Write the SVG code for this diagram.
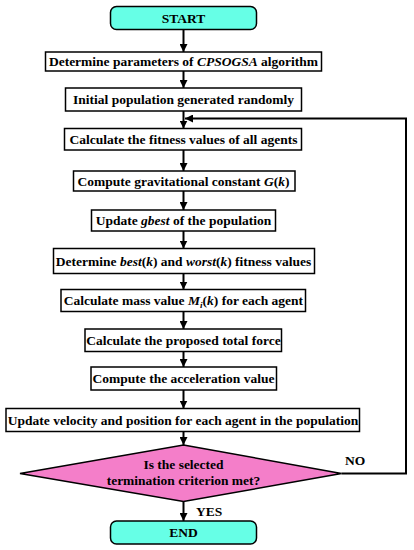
<svg xmlns="http://www.w3.org/2000/svg" width="414" height="550" viewBox="0 0 414 550">
<defs>
<style>
.box{fill:#fff;stroke:#000;stroke-width:1.5}
.term{fill:#66FFE6;stroke:#000;stroke-width:1.5}
.dec{fill:#F47EC9;stroke:#000;stroke-width:1.5}
.t{font-family:"Liberation Serif","Times New Roman",serif;font-weight:bold;font-size:13.5px;text-anchor:middle;fill:#000}
.i{font-style:italic}
.conn{stroke:#000;stroke-width:2;fill:none}
</style>
<marker id="ah" markerWidth="8" markerHeight="8" refX="8" refY="4" orient="auto" markerUnits="userSpaceOnUse">
<path d="M0,0 L8,4 L0,8 Z" fill="#000"/>
</marker>
</defs>
<rect width="414" height="550" fill="#fff"/>
<g id="connectors">
<line class="conn" x1="183.5" y1="29.5" x2="183.5" y2="52" marker-end="url(#ah)"/>
<line class="conn" x1="183.5" y1="71" x2="183.5" y2="88" marker-end="url(#ah)"/>
<line class="conn" x1="183.5" y1="111" x2="183.5" y2="128.5" marker-end="url(#ah)"/>
<line class="conn" x1="183.5" y1="150" x2="183.5" y2="171" marker-end="url(#ah)"/>
<line class="conn" x1="183.5" y1="191" x2="183.5" y2="210" marker-end="url(#ah)"/>
<line class="conn" x1="183.5" y1="231" x2="183.5" y2="248.5" marker-end="url(#ah)"/>
<line class="conn" x1="183.5" y1="273.5" x2="183.5" y2="289.5" marker-end="url(#ah)"/>
<line class="conn" x1="183.5" y1="311.5" x2="183.5" y2="329" marker-end="url(#ah)"/>
<line class="conn" x1="183.5" y1="351.5" x2="183.5" y2="367" marker-end="url(#ah)"/>
<line class="conn" x1="183.5" y1="390" x2="183.5" y2="408.5" marker-end="url(#ah)"/>
<line class="conn" x1="183.5" y1="431.5" x2="183.5" y2="445" marker-end="url(#ah)"/>
<line class="conn" x1="183.5" y1="501.5" x2="183.5" y2="521" marker-end="url(#ah)"/>
<polyline class="conn" points="341.5,473.5 406,473.5 406,118.5 185,118.5" marker-end="url(#ah)"/>
<text class="t" x="345" y="465" style="text-anchor:start">NO</text>
<text class="t" x="196" y="516" style="text-anchor:start">YES</text>
</g>
<g id="start">
<rect class="term" x="110.5" y="6.5" width="146" height="23" rx="6"/>
<text class="t" x="183.5" y="22.5">START</text>
</g>
<g id="n1">
<rect class="box" x="45.5" y="52" width="276" height="19"/>
<text class="t" x="183.5" y="66">Determine parameters of <tspan class="i">CPSOGSA</tspan> algorithm</text>
</g>
<g id="n2">
<rect class="box" x="65.5" y="88" width="236" height="23"/>
<text class="t" x="183.5" y="104">Initial population generated randomly</text>
</g>
<g id="n3">
<rect class="box" x="64.5" y="128.5" width="237" height="21.5"/>
<text class="t" x="183.5" y="144">Calculate the fitness values of all agents</text>
</g>
<g id="n4">
<rect class="box" x="73.5" y="171" width="221.5" height="20"/>
<text class="t" x="183.5" y="185.5">Compute gravitational constant <tspan class="i">G</tspan>(<tspan class="i">k</tspan>)</text>
</g>
<g id="n5">
<rect class="box" x="91.5" y="210" width="184" height="21"/>
<text class="t" x="183.5" y="225">Update <tspan class="i">gbest</tspan> of the population</text>
</g>
<g id="n6">
<rect class="box" x="53.5" y="248.5" width="261" height="25"/>
<text class="t" x="183.5" y="265.5">Determine <tspan class="i">best</tspan>(<tspan class="i">k</tspan>) and <tspan class="i">worst</tspan>(<tspan class="i">k</tspan>) fitness values</text>
</g>
<g id="n7">
<rect class="box" x="61" y="289.5" width="244.5" height="22"/>
<text class="t" x="183.5" y="305">Calculate mass value <tspan class="i">M</tspan><tspan class="i" font-size="9" dy="3">i</tspan><tspan dy="-3">(</tspan><tspan class="i">k</tspan>) for each agent</text>
</g>
<g id="n8">
<rect class="box" x="85" y="329" width="196.5" height="22.5"/>
<text class="t" x="183.5" y="345">Calculate the proposed total force</text>
</g>
<g id="n9">
<rect class="box" x="91" y="367" width="185.5" height="23"/>
<text class="t" x="183.5" y="383">Compute the acceleration value</text>
</g>
<g id="n10">
<rect class="box" x="6" y="408.5" width="353.5" height="23"/>
<text class="t" x="183" y="424.5">Update velocity and position for each agent in the population</text>
</g>
<g id="decision">
<polygon class="dec" points="183.5,445 341.5,473.5 183.5,501.5 20,473.5"/>
<text class="t" x="183.5" y="469">Is the selected</text>
<text class="t" x="183.5" y="485">termination criterion met?</text>
</g>
<g id="end">
<rect class="term" x="110.5" y="521" width="146" height="23" rx="6"/>
<text class="t" x="183.5" y="537">END</text>
</g>
</svg>
